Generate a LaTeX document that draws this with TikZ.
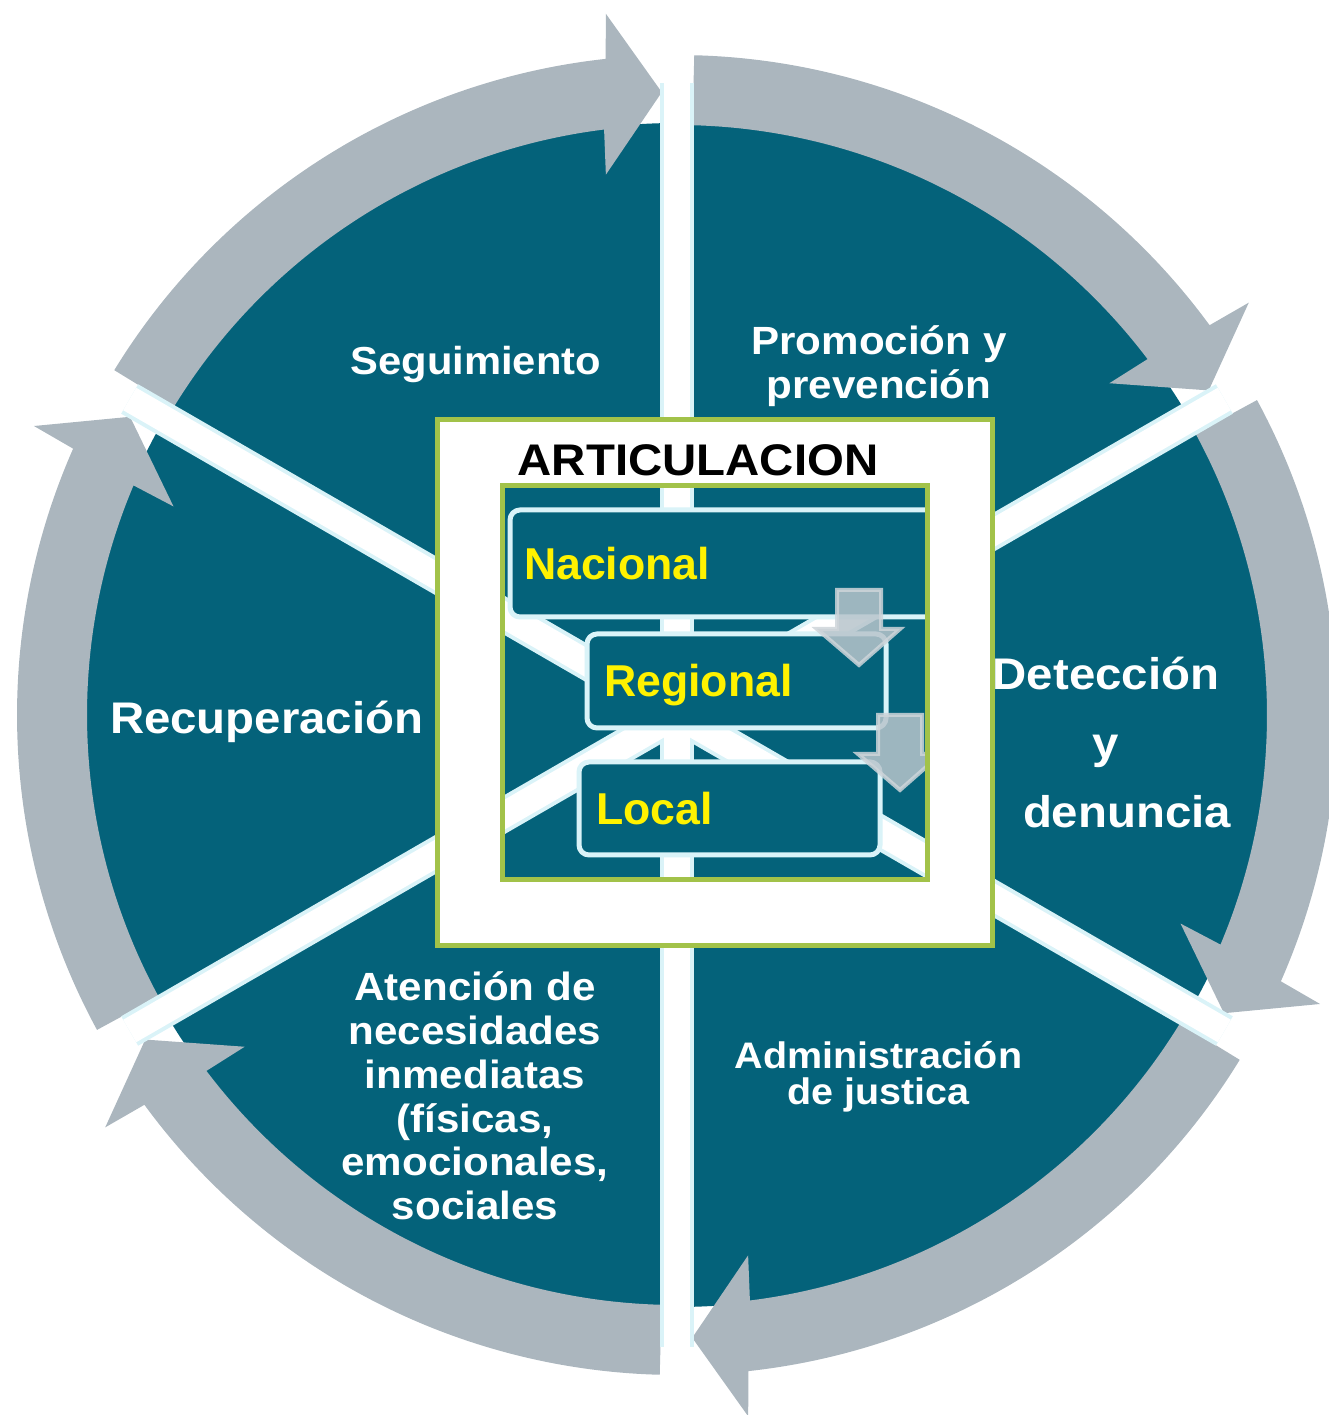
\documentclass[tikz,border=0pt]{standalone}
\usepackage{fontspec}
\setmainfont{Liberation Sans}
\newfontfamily\widesans{Liberation Sans}[FakeStretch=1.07]
\usepackage{xcolor}
\definecolor{ciclo}{RGB}{4,98,122}
\definecolor{anillo}{RGB}{171,182,190}
\definecolor{borde}{RGB}{218,243,248}
\definecolor{verde}{RGB}{162,194,73}
\definecolor{flechita}{RGB}{184,197,204}
\definecolor{flechaborde}{RGB}{206,213,218}
\newcommand{\arco}[2]{\fill[anillo] ({#1-1.5}:6.6) arc[start angle={#1-1.5}, end angle={#2+6.2}, radius=6.6] -- ({#2+5.8}:7.05) -- ({#2+1.4}:6.23) -- ({#2+7.5}:5.45) -- ({#2+7.1}:5.9) arc[start angle={#2+7.1}, end angle={#1-1.5}, radius=5.9] -- cycle;}
\newcommand{\wfont}[2]{\widesans\bfseries\fontsize{#1}{#2}\selectfont}

\begin{document}
\begin{tikzpicture}[
        gapedge/.style={draw=borde, line width=0.34cm},
        gapfill/.style={draw=white, line width=0.26cm},
        marco/.style={draw=verde, line width=0.05cm},
        nivel/.style={draw=borde, fill=ciclo, line width=0.05cm, rounded corners=0.1cm,
            text=yellow, font=\bfseries\fontsize{12.7}{14}\selectfont, align=left,
            inner xsep=0.17cm, inner ysep=0pt, text height=0.32cm, text depth=0pt},
        bajada/.style={fill=flechita, draw=flechaborde, line width=0.04cm, opacity=0.85},
        etiqueta/.style={text=white, inner sep=0pt, align=center}]
        \useasboundingbox (-6.77,-7.00) rectangle (6.52,7.15);

        \fill[ciclo] (0,0) circle (5.92);

        \arco{150}{90}
        \arco{90}{30}
        \arco{30}{-30}
        \arco{-30}{-90}
        \arco{-90}{-150}
        \arco{-150}{-210}

        \draw[gapedge] (90:6.32) -- (270:6.32);
        \draw[gapedge] (30:6.32) -- (210:6.32);
        \draw[gapedge] (150:6.32) -- (330:6.32);
        \draw[gapfill] (90:6.32) -- (270:6.32);
        \draw[gapfill] (30:6.32) -- (210:6.32);
        \draw[gapfill] (150:6.32) -- (330:6.32);

        \node[nivel, inner xsep=0.14cm, text width=4.19cm, minimum height=1.07cm] (nacional) at (0.565,1.515) {Nacional};
        \node[nivel, text width=2.65cm, minimum height=0.94cm] (regional) at (0.595,0.34) {Regional};
        \node[nivel, text width=2.67cm, minimum height=0.93cm] (local) at (0.525,-0.935) {Local};

        \filldraw[bajada] (1.60,1.25) -- (2.04,1.25) -- (2.04,0.86) -- (2.23,0.86) -- (1.82,0.50) -- (1.40,0.86) -- (1.60,0.86) -- cycle;
        \filldraw[bajada] (2.01,0.00) -- (2.45,0.00) -- (2.45,-0.39) -- (2.64,-0.39) -- (2.23,-0.75) -- (1.81,-0.39) -- (2.01,-0.39) -- cycle;

        \fill[white, even odd rule] (-2.40,2.95) rectangle (3.15,-2.30) (-1.75,2.29) rectangle (2.505,-1.65);
        \draw[marco] (-2.40,2.95) rectangle (3.15,-2.30);
        \draw[marco] (-1.75,2.29) rectangle (2.505,-1.65);

        \node[anchor=base, inner sep=0pt, font=\wfont{12.6}{15}] (artic) at (0.21,2.395) {ARTICULACION};

        \node[etiqueta, anchor=base, font=\wfont{11.1}{13}] (seguim) at (-2.013,3.40) {Seguimiento};
        \node[etiqueta, font=\wfont{11.2}{12.3}] (promo) at (2.02,3.488) {Promoción y\\prevención};
        \node[etiqueta, font=\wfont{12.6}{19.6}] (detec) at (4.29,-0.275) {Detección\\y\\\hspace*{0.42cm}denuncia};
        \node[etiqueta, font=\wfont{10.5}{10.45}] (admin) at (2.015,-3.617) {Administración\\de justica};
        \node[etiqueta, font=\wfont{11.2}{12.5}] (atenc) at (-2.02,-3.808) {Atención de\\necesidades\\inmediatas\\(físicas,\\emocionales,\\sociales};
        \node[etiqueta, anchor=base, font=\wfont{12.6}{15}] (recup) at (-4.103,-0.183) {Recuperación};

    \end{tikzpicture}
\end{document}
